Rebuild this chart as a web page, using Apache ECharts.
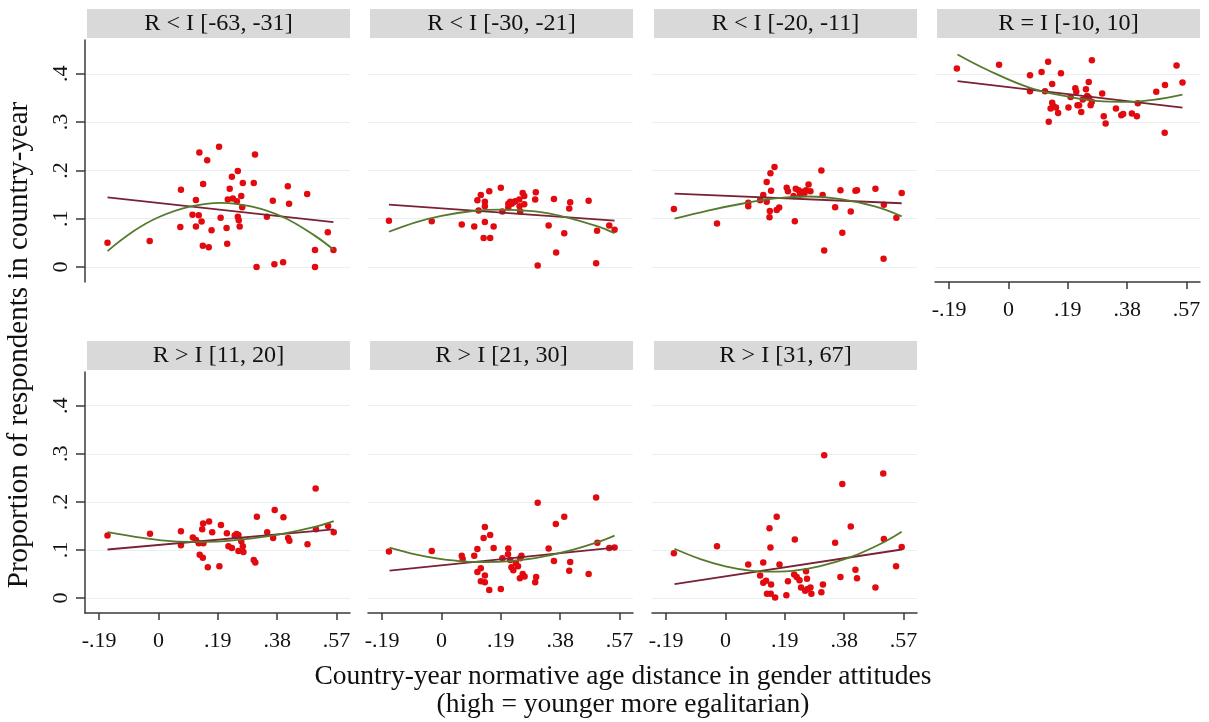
<!DOCTYPE html>
<html>
<head>
<meta charset="utf-8">
<script src="https://cdn.jsdelivr.net/npm/echarts@6/dist/echarts.min.js"></script>
<style>
  html, body { margin: 0; padding: 0; background: #fff; }
  #chart { width: 1209px; height: 722px; }
</style>
</head>
<body>
<div id="chart"></div>
<script>
// Panel headers (age-gap groups)
const panelTitles = [
  'R < I [-63, -31]', 'R < I [-30, -21]', 'R < I [-20, -11]', 'R = I [-10, 10]',
  'R > I [11, 20]', 'R > I [21, 30]', 'R > I [31, 67]'
];

// Axis ticks
const xTicks = [-0.19, 0, 0.19, 0.38, 0.57];
const xTickLabels = ['-.19', '0', '.19', '.38', '.57'];
const yTicks = [0, 0.1, 0.2, 0.3, 0.4];
const yTickLabels = ['0', '.1', '.2', '.3', '.4'];

// Country-year observations: [normative age distance, proportion of respondents]
const pts1 = [[-0.163,0.050],[-0.028,0.054],[0.072,0.160],[0.070,0.083],[0.120,0.139],[0.120,0.084],[0.109,0.108],[0.129,0.107],[0.138,0.094],[0.142,0.044],[0.161,0.041],[0.131,0.237],[0.143,0.172],[0.156,0.221],[0.170,0.076],[0.194,0.249],[0.199,0.102],[0.218,0.081],[0.220,0.048],[0.222,0.140],[0.228,0.162],[0.235,0.187],[0.238,0.142],[0.251,0.136],[0.254,0.199],[0.254,0.104],[0.257,0.097],[0.260,0.084],[0.265,0.147],[0.268,0.124],[0.270,0.174],[0.305,0.174],[0.309,0.233],[0.314,0.000],[0.347,0.104],[0.366,0.137],[0.371,0.006],[0.399,0.010],[0.414,0.167],[0.418,0.131],[0.476,0.151],[0.501,0.035],[0.501,0.000],[0.542,0.072],[0.560,0.035]];
const pts2 = [[-0.168,0.096],[-0.031,0.095],[0.065,0.088],[0.105,0.084],[0.115,0.138],[0.126,0.149],[0.139,0.135],[0.139,0.126],[0.139,0.093],[0.135,0.060],[0.156,0.060],[0.153,0.157],[0.167,0.084],[0.119,0.117],[0.190,0.164],[0.195,0.115],[0.214,0.131],[0.220,0.135],[0.225,0.131],[0.230,0.134],[0.236,0.136],[0.249,0.140],[0.250,0.126],[0.252,0.115],[0.260,0.153],[0.265,0.147],[0.265,0.130],[0.214,0.123],[0.302,0.155],[0.300,0.140],[0.308,0.003],[0.343,0.086],[0.360,0.141],[0.367,0.030],[0.393,0.070],[0.409,0.121],[0.412,0.134],[0.471,0.137],[0.495,0.008],[0.498,0.075],[0.537,0.086],[0.554,0.077]];
const pts3 = [[-0.165,0.120],[-0.027,0.090],[0.073,0.133],[0.073,0.126],[0.111,0.138],[0.121,0.149],[0.132,0.135],[0.132,0.176],[0.144,0.194],[0.157,0.207],[0.146,0.158],[0.142,0.116],[0.141,0.103],[0.164,0.118],[0.172,0.123],[0.196,0.164],[0.200,0.157],[0.218,0.147],[0.222,0.095],[0.225,0.162],[0.234,0.159],[0.239,0.150],[0.247,0.156],[0.253,0.153],[0.258,0.159],[0.266,0.171],[0.272,0.157],[0.307,0.200],[0.311,0.149],[0.316,0.034],[0.351,0.124],[0.368,0.159],[0.374,0.071],[0.401,0.115],[0.416,0.158],[0.421,0.159],[0.480,0.162],[0.506,0.017],[0.507,0.129],[0.547,0.102],[0.564,0.153]];
const pts4 = [[-0.165,0.411],[-0.030,0.419],[0.069,0.397],[0.069,0.364],[0.106,0.404],[0.117,0.364],[0.127,0.425],[0.129,0.301],[0.140,0.379],[0.135,0.328],[0.140,0.340],[0.144,0.333],[0.152,0.330],[0.159,0.319],[0.168,0.401],[0.192,0.330],[0.199,0.352],[0.214,0.370],[0.217,0.363],[0.221,0.335],[0.226,0.335],[0.233,0.321],[0.238,0.347],[0.248,0.368],[0.252,0.354],[0.257,0.383],[0.257,0.351],[0.263,0.335],[0.267,0.428],[0.267,0.342],[0.300,0.359],[0.305,0.312],[0.311,0.297],[0.344,0.328],[0.361,0.314],[0.367,0.317],[0.395,0.318],[0.411,0.312],[0.414,0.339],[0.473,0.363],[0.500,0.278],[0.501,0.377],[0.538,0.417],[0.557,0.382]];
const pts5 = [[-0.163,0.130],[-0.027,0.134],[0.072,0.139],[0.072,0.110],[0.110,0.126],[0.120,0.121],[0.129,0.114],[0.132,0.090],[0.142,0.084],[0.140,0.143],[0.143,0.155],[0.144,0.114],[0.158,0.064],[0.162,0.159],[0.172,0.137],[0.195,0.066],[0.200,0.152],[0.219,0.135],[0.224,0.108],[0.235,0.104],[0.244,0.130],[0.250,0.133],[0.256,0.131],[0.256,0.098],[0.265,0.118],[0.270,0.108],[0.272,0.096],[0.305,0.079],[0.310,0.074],[0.315,0.169],[0.348,0.137],[0.367,0.125],[0.372,0.183],[0.400,0.168],[0.415,0.125],[0.419,0.119],[0.477,0.112],[0.503,0.228],[0.504,0.143],[0.543,0.150],[0.561,0.137]];
const pts6 = [[-0.168,0.097],[-0.031,0.098],[0.065,0.088],[0.068,0.081],[0.105,0.088],[0.115,0.102],[0.126,0.062],[0.115,0.054],[0.126,0.035],[0.139,0.047],[0.139,0.033],[0.135,0.125],[0.139,0.148],[0.153,0.017],[0.156,0.131],[0.167,0.104],[0.190,0.019],[0.195,0.083],[0.214,0.103],[0.213,0.091],[0.220,0.079],[0.224,0.064],[0.230,0.058],[0.238,0.073],[0.245,0.066],[0.251,0.041],[0.252,0.083],[0.256,0.088],[0.260,0.050],[0.266,0.045],[0.300,0.033],[0.303,0.044],[0.308,0.198],[0.343,0.103],[0.360,0.077],[0.366,0.154],[0.393,0.169],[0.412,0.075],[0.409,0.057],[0.471,0.050],[0.495,0.209],[0.499,0.115],[0.537,0.104],[0.554,0.105]];
const pts7 = [[-0.165,0.093],[-0.027,0.108],[0.073,0.070],[0.111,0.047],[0.121,0.074],[0.121,0.032],[0.130,0.036],[0.133,0.009],[0.141,0.145],[0.144,0.105],[0.146,0.028],[0.145,0.009],[0.159,0.001],[0.164,0.169],[0.173,0.070],[0.195,0.006],[0.200,0.035],[0.222,0.122],[0.220,0.049],[0.228,0.044],[0.237,0.037],[0.242,0.022],[0.255,0.015],[0.258,0.056],[0.261,0.040],[0.263,0.019],[0.272,0.022],[0.275,0.009],[0.307,0.012],[0.312,0.028],[0.316,0.297],[0.351,0.115],[0.368,0.044],[0.374,0.237],[0.401,0.149],[0.416,0.059],[0.421,0.041],[0.480,0.022],[0.505,0.259],[0.507,0.123],[0.546,0.066],[0.564,0.106]];

// Linear fits (end points)
const lfit1 = [[-0.163,0.144],[0.560,0.093]];
const lfit2 = [[-0.168,0.129],[0.554,0.096]];
const lfit3 = [[-0.163,0.152],[0.564,0.132]];
const lfit4 = [[-0.163,0.385],[0.557,0.330]];
const lfit5 = [[-0.163,0.101],[0.561,0.143]];
const lfit6 = [[-0.166,0.057],[0.554,0.105]];
const lfit7 = [[-0.163,0.029],[0.564,0.101]];

// Quadratic fits (points along the curve)
const qfit1 = [[-0.163,0.033],[-0.08,0.074],[0.0,0.103],[0.1,0.125],[0.2,0.133],[0.3,0.125],[0.4,0.103],[0.5,0.065],[0.56,0.036]];
const qfit2 = [[-0.168,0.073],[-0.08,0.093],[0.0,0.106],[0.1,0.116],[0.19,0.119],[0.3,0.115],[0.4,0.103],[0.5,0.084],[0.554,0.070]];
const qfit3 = [[-0.163,0.100],[-0.056,0.117],[0.052,0.131],[0.159,0.142],[0.266,0.146],[0.374,0.140],[0.481,0.125],[0.564,0.105]];
const qfit4 = [[-0.163,0.440],[-0.07,0.409],[0.069,0.371],[0.197,0.352],[0.303,0.343],[0.389,0.342],[0.463,0.346],[0.557,0.357]];
const qfit5 = [[-0.163,0.137],[-0.05,0.125],[0.05,0.118],[0.12,0.117],[0.2,0.118],[0.3,0.124],[0.4,0.134],[0.5,0.148],[0.561,0.160]];
const qfit6 = [[-0.166,0.105],[-0.08,0.0905],[0.0,0.081],[0.08,0.076],[0.14,0.075],[0.22,0.077],[0.3,0.083],[0.4,0.097],[0.5,0.1165],[0.554,0.130]];
const qfit7 = [[-0.163,0.1025],[-0.08,0.081],[0.0,0.066],[0.08,0.057],[0.15,0.055],[0.22,0.057],[0.3,0.066],[0.4,0.085],[0.5,0.114],[0.564,0.138]];

const points = [pts1, pts2, pts3, pts4, pts5, pts6, pts7];
const lfits = [lfit1, lfit2, lfit3, lfit4, lfit5, lfit6, lfit7];
const qfits = [qfit1, qfit2, qfit3, qfit4, qfit5, qfit6, qfit7];

// Layout of the 4 x 2 panel matrix
const colLeft = [85, 368, 652, 935];
const panelW = 265;
const rowTop = [40, 372];
const panelH = [242, 241];
const showY = [true, false, false, false, true, false, false];
const showX = [false, false, false, true, true, true, true];

const FONT = '"Liberation Serif", "Times New Roman", serif';
const RED = '#e20a0f';
const MAROON = '#7a2136';
const GREEN = '#557a2c';
const AXIS = '#3a3a3a';

function tickLabel(values, labels) {
  return function (v) {
    for (let i = 0; i < values.length; i++) {
      if (Math.abs(values[i] - v) < 1e-6) return labels[i];
    }
    return '';
  };
}

const grids = [], xAxes = [], yAxes = [], series = [], graphics = [];

panelTitles.forEach(function (title, i) {
  const col = i < 4 ? i : i - 4;
  const row = i < 4 ? 0 : 1;
  const left = colLeft[col];
  const top = rowTop[row];
  grids.push({ left: left, top: top, width: panelW, height: panelH[row] });

  xAxes.push({
    type: 'value', gridIndex: i, min: -0.235, max: 0.613,
    axisLine: { show: showX[i], onZero: false, lineStyle: { color: AXIS, width: 1.5 } },
    axisTick: { show: showX[i], length: 7, customValues: xTicks, lineStyle: { color: AXIS, width: 1.5 } },
    axisLabel: { show: showX[i], customValues: xTicks, formatter: tickLabel(xTicks, xTickLabels),
      fontFamily: FONT, fontSize: 22, color: '#111', margin: 17 },
    splitLine: { show: false }
  });
  yAxes.push({
    type: 'value', gridIndex: i, min: -0.031, max: 0.47,
    axisLine: { show: showY[i], onZero: false, lineStyle: { color: AXIS, width: 1.5 } },
    axisTick: { show: showY[i], length: 9, customValues: yTicks, lineStyle: { color: AXIS, width: 1.5 } },
    axisLabel: { show: showY[i], customValues: yTicks, formatter: tickLabel(yTicks, yTickLabels),
      rotate: 90, fontFamily: FONT, fontSize: 22, color: '#111', margin: 13 },
    splitLine: { show: true, lineStyle: { color: '#e8f0f2', width: 1.2 } }
  });

  series.push({
    type: 'scatter', xAxisIndex: i, yAxisIndex: i, data: points[i],
    symbol: 'circle', symbolSize: 6.5, itemStyle: { color: RED, opacity: 1 }, z: 3
  });
  series.push({
    type: 'line', xAxisIndex: i, yAxisIndex: i, data: lfits[i],
    showSymbol: false, lineStyle: { color: MAROON, width: 1.8 }, z: 4
  });
  series.push({
    type: 'line', xAxisIndex: i, yAxisIndex: i, data: qfits[i], smooth: 0.4,
    showSymbol: false, lineStyle: { color: GREEN, width: 1.8 }, z: 5
  });

  // Panel header strip
  const cx = left + 1 + panelW / 2;
  graphics.push({
    type: 'rect', left: left + 2, top: top - 31,
    shape: { width: panelW - 2, height: 29 },
    style: { fill: '#d9d9d9' }, silent: true
  });
  graphics.push({
    type: 'text', x: cx, y: top - 16.5, scaleX: 1.05, originX: 0, originY: 0,
    style: { text: title, font: '23px ' + FONT, fill: '#111',
      textAlign: 'center', textVerticalAlign: 'middle' }, silent: true
  });
});

// Shared axis titles
graphics.push({
  type: 'text', x: 19, y: 345, rotation: Math.PI / 2,
  style: { text: 'Proportion of respondents in country-year', font: '29px ' + FONT,
    fill: '#111', textAlign: 'center', textVerticalAlign: 'middle' }, silent: true
});
graphics.push({
  type: 'text', x: 623, y: 677,
  style: { text: 'Country-year normative age distance in gender attitudes', font: '27.5px ' + FONT,
    fill: '#111', textAlign: 'center', textVerticalAlign: 'middle' }, silent: true
});
graphics.push({
  type: 'text', x: 623, y: 705,
  style: { text: '(high = younger more egalitarian)', font: '27.5px ' + FONT,
    fill: '#111', textAlign: 'center', textVerticalAlign: 'middle' }, silent: true
});

const chart = echarts.init(document.getElementById('chart'), null, { renderer: 'canvas' });
chart.setOption({
  backgroundColor: '#ffffff',
  animation: false,
  grid: grids,
  xAxis: xAxes,
  yAxis: yAxes,
  series: series,
  graphic: graphics
});
</script>
</body>
</html>
